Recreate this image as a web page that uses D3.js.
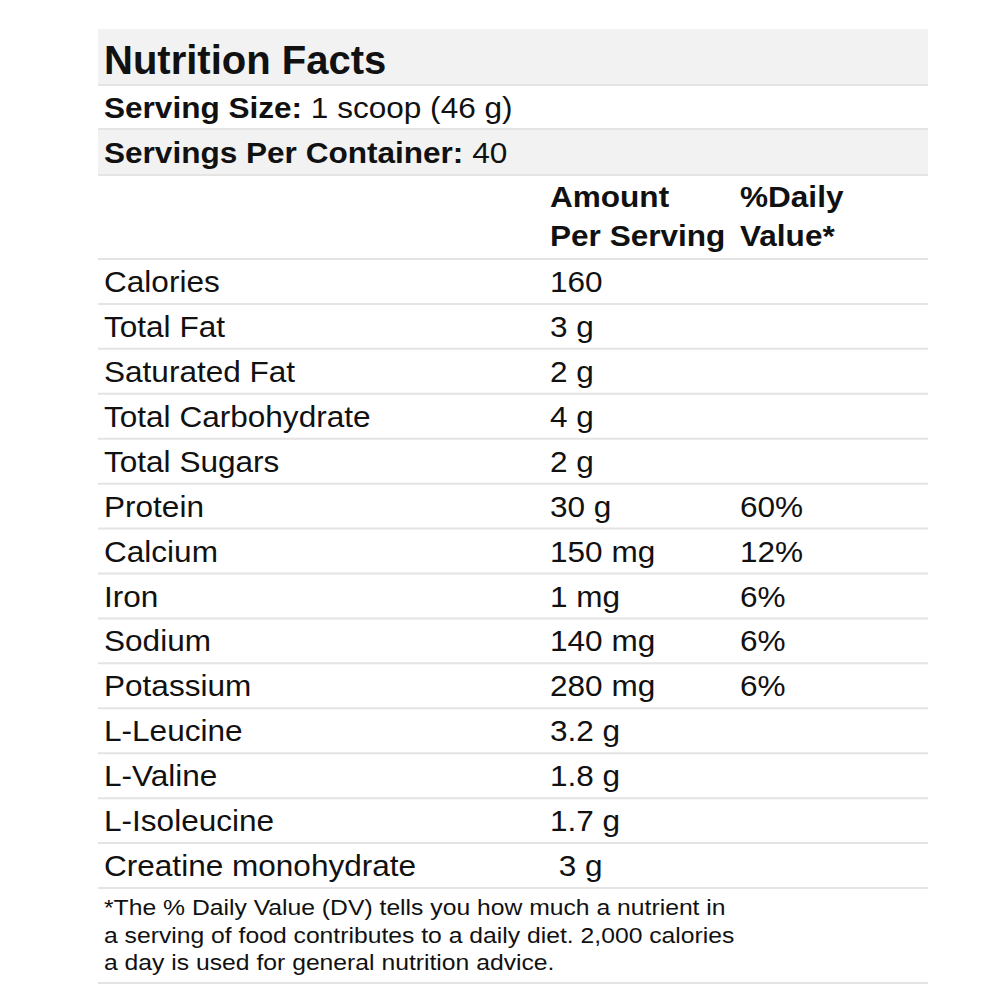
<!DOCTYPE html>
<html><head><meta charset="utf-8">
<script src="https://cdn.jsdelivr.net/npm/d3@7"></script>
<style>
html,body{margin:0;padding:0;background:#fff;}
svg{display:block;}
text{font-family:"Liberation Sans",Arial,sans-serif;fill:#111;}
</style></head>
<body>
<svg id="chart" width="1000" height="1000"></svg>
<script>
const title = "Nutrition Facts";
const servingSizeLabel = "Serving Size:";
const servingSizeValue = " 1 scoop (46 g)";
const servingsLabel = "Servings Per Container:";
const servingsValue = " 40";
const headerAmount = ["Amount", "Per Serving"];
const headerDV = ["%Daily", "Value*"];
const nutrients = ["Calories","Total Fat","Saturated Fat","Total Carbohydrate","Total Sugars","Protein","Calcium","Iron","Sodium","Potassium","L-Leucine","L-Valine","L-Isoleucine","Creatine monohydrate"];
const amounts = ["160","3 g","2 g","4 g","2 g","30 g","150 mg","1 mg","140 mg","280 mg","3.2 g","1.8 g","1.7 g","\u00a03 g"];
const dailyValues = ["","","","","","60%","12%","6%","6%","6%","","","",""];
const footnote = ["*The % Daily Value (DV) tells you how much a nutrient in",
                  "a serving of food contributes to a daily diet. 2,000 calories",
                  "a day is used for general nutrition advice."];

const svg = d3.select("#chart");
const left = 98, right = 928;
const FS = 29.5, SX = 1.07;
const colX = d3.scaleOrdinal().domain(["label","amount","dv"]).range([104, 550, 740]);

const headerRows = [
  {key:"title", y0:29, y1:85, bg:"#f2f2f2"},
  {key:"size", y0:85, y1:129, bg:"#ffffff"},
  {key:"servings", y0:129, y1:175, bg:"#f2f2f2"},
  {key:"head", y0:175, y1:259, bg:"#ffffff"}
];
svg.selectAll("rect.hbg").data(headerRows).join("rect")
  .attr("class","hbg").attr("x",left).attr("width",right-left)
  .attr("y",d=>d.y0).attr("height",d=>d.y1-d.y0).attr("fill",d=>d.bg);

const y = d3.scaleBand().domain(nutrients).range([259, 888]);

const borderYs = [85,129,175,259].concat(nutrients.map(n=>y(n)+y.bandwidth()), [983]);
svg.selectAll("line.b").data(borderYs).join("line")
  .attr("class","b").attr("x1",left).attr("x2",right)
  .attr("y1",d=>d).attr("y2",d=>d)
  .attr("stroke","#e4e4e4").attr("stroke-width",2);

function place(x, yy, sx){ return `translate(${x},${yy}) scale(${sx},1)`; }

svg.append("text").attr("x",colX("label")).attr("y",73.5)
  .attr("font-size",40).attr("font-weight","bold").text(title);

const ss = svg.append("text").attr("transform",place(colX("label"),118,SX)).attr("font-size",FS);
ss.append("tspan").attr("font-weight","bold").text(servingSizeLabel);
ss.append("tspan").text(servingSizeValue);
const sp = svg.append("text").attr("transform",place(colX("label"),162.5,SX)).attr("font-size",FS);
sp.append("tspan").attr("font-weight","bold").text(servingsLabel);
sp.append("tspan").text(servingsValue);

svg.selectAll("text.ha").data(headerAmount).join("text").attr("class","ha")
  .attr("transform",(d,i)=>place(colX("amount"),207+i*39,SX))
  .attr("font-size",FS).attr("font-weight","bold").text(d=>d);
svg.selectAll("text.hd").data(headerDV).join("text").attr("class","hd")
  .attr("transform",(d,i)=>place(colX("dv"),207+i*39,SX))
  .attr("font-size",FS).attr("font-weight","bold").text(d=>d);

const rows = svg.selectAll("g.row").data(nutrients).join("g")
  .attr("class","row").attr("transform",d=>`translate(0,${y(d)+33})`);
rows.append("text").attr("transform",place(colX("label"),0,SX)).attr("font-size",FS).text(d=>d);
rows.append("text").attr("transform",place(colX("amount"),0,SX)).attr("font-size",FS).text((d,i)=>amounts[i]);
rows.append("text").attr("transform",place(colX("dv"),0,SX)).attr("font-size",FS).text((d,i)=>dailyValues[i]);

svg.selectAll("text.fn").data(footnote).join("text").attr("class","fn")
  .attr("transform",(d,i)=>place(colX("label"),915+i*27.5,1.075))
  .attr("font-size",23).text(d=>d);
</script>
</body></html>
